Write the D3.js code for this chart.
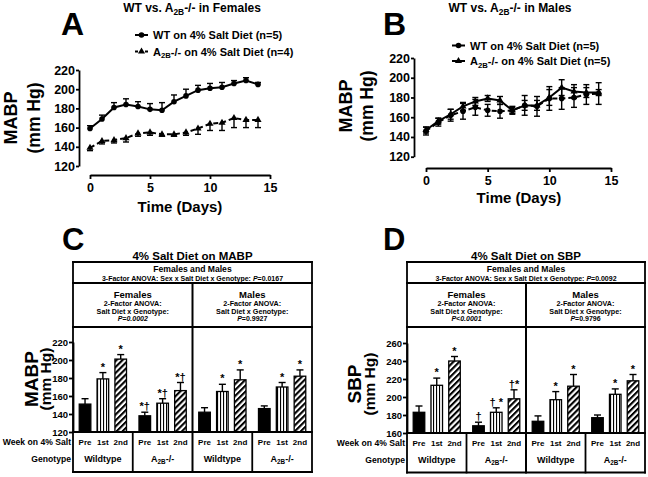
<!DOCTYPE html>
<html><head><meta charset="utf-8">
<script src="https://cdn.jsdelivr.net/npm/d3@7"></script>
<style>
body{margin:0;background:#fff}
svg{display:block;font-family:"Liberation Sans",Arial,Helvetica,sans-serif;font-weight:bold}
</style>
</head><body>
<svg id="c" width="648" height="477"></svg>
<script>
// ---------------- DATA ----------------
const days = [0,1,2,3,4,5,6,7,8,9,10,11,12,13,14];
const lineYTicks = [120,140,160,180,200,220];
const lineXTicks = [0,5,10,15];

// Panel A (females)
const femWT    = [159,169,181,184,182,179,178,187,193,199,201,202,206,209,205];
const femWTErr = [3,4,5,6,5,6,8,7,7,5,5,5,3,3,2];
const femKO    = [139,146,147,149,154,155,153,153,155,159,164,165,170,168,168];
const femKOErr = [3,3,3,4,3,3,2,2,3,6,7,8,10,8,8];

// Panel B (males)
const maleWT    = [146,155,162,166,170,167,166,167,172,171,179,179,180,183,184];
const maleWTErr = [4,4,6,8,8,6,7,4,10,10,12,11,10,10,11];
const maleKO    = [147,156,163,171,176,179,177,167,172,172,180,190,186,185,185];
const maleKOErr = [3,3,5,4,4,3,4,3,5,5,8,8,7,5,3];

// Panels C & D (bars)
const weeks = ["Pre","1st","2nd"];
const groupIds = ["F-WT","F-KO","M-WT","M-KO"];
const groupLabels = ["Wildtype","A2B-/-","Wildtype","A2B-/-"];
const mabpTicks = [120,140,160,180,200,220];
const mabpMean = [[151,179,201],[138,152,166],[142,165,178],[146,170,182]];
const mabpSem  = [[6,7,5],[4,5,9],[5,8,11],[3,5,7]];
const mabpSig  = [["","*","*"],["*†","*†","*†"],["","*","*"],["","*","*"]];
const sbpTicks = [160,180,200,220,240,260];
const sbpMean = [[183,213,240],[168,183,198],[173,197,212],[177,203,218]];
const sbpSem  = [[7,8,5],[4,5,10],[6,9,13],[3,6,7]];
const sbpSig  = [["","*","*"],["†","† *","†*"],["","*","*"],["","*","*"]];

// ---------------- HELPERS ----------------
const svg = d3.select("#c");
svg.append("rect").attr("width",648).attr("height",477).attr("fill","#fff");
const defs = svg.append("defs");
defs.append("pattern").attr("id","vstripe").attr("patternUnits","userSpaceOnUse")
  .attr("width",3).attr("height",4)
  .call(p=>{p.append("rect").attr("width",3).attr("height",4).attr("fill","#fff");
            p.append("rect").attr("x",1).attr("width",1.1).attr("height",4).attr("fill","#000");});
defs.append("pattern").attr("id","diag").attr("patternUnits","userSpaceOnUse")
  .attr("width",4.2).attr("height",4.2).attr("patternTransform","rotate(45)")
  .call(p=>{p.append("rect").attr("width",4.2).attr("height",4.2).attr("fill","#fff");
            p.append("rect").attr("width",2.1).attr("height",4.2).attr("fill","#000");});

function rich(sel, str, size){
  const parts = str.split("A2B");
  parts.forEach((p,i)=>{
    if(i>0){
      sel.append("tspan").text("A");
      sel.append("tspan").attr("font-size",size*0.7).attr("dy",size*0.25).text("2B");
      sel.append("tspan").attr("dy",-size*0.25).text(p);
    } else if(p) sel.append("tspan").text(p);
  });
  return sel;
}
function text(x,y,str,size,anchor="middle",extra){
  const t = svg.append("text").attr("x",x).attr("y",y).attr("font-size",size)
    .attr("text-anchor",anchor).attr("fill","#000");
  rich(t,str,size);
  if(extra) extra(t);
  return t;
}
function vtext(x,y,str,size){
  return svg.append("text").attr("transform",`translate(${x},${y}) rotate(-90)`)
    .attr("text-anchor","middle").attr("font-size",size).attr("fill","#000").text(str);
}
function styleAxis(a,size,w=1.8){
  a.select(".domain").attr("stroke","#000").attr("stroke-width",w);
  a.selectAll(".tick line").attr("stroke","#000").attr("stroke-width",w);
  a.selectAll(".tick text").attr("fill","#000").attr("font-size",size)
    .attr("font-weight","bold").attr("font-family",'"Liberation Sans",Arial,sans-serif');
}
const tri = d3.symbol().type(d3.symbolTriangle).size(22);

// ---------------- LINE PANELS ----------------
function linePanel(o){
  const x = d3.scaleLinear().domain([0,15]).range([o.x0,o.x1]);
  const y = d3.scaleLinear().domain([120,220]).range([o.yB,o.yT]);
  const g = svg.append("g");
  const ya = g.append("g").attr("transform",`translate(${o.ax},0)`)
    .call(d3.axisLeft(y).tickValues(lineYTicks).tickSize(3).tickSizeOuter(0).tickPadding(1));
  const xa = g.append("g").attr("transform",`translate(0,${o.ay})`)
    .call(d3.axisBottom(x).tickValues(lineXTicks).tickSize(4).tickSizeOuter(0).tickPadding(4));
  styleAxis(ya,12.5); styleAxis(xa,12.5);

  o.series.forEach(s=>{
    const eg = g.append("g").attr("stroke","#000").attr("stroke-width",1.4);
    days.forEach((d,i)=>{
      const v=s.vals[i], e=s.err[i];
      const lo = s.dir==="up" ? v : v-e;
      const hi = s.dir==="down" ? v : v+e;
      eg.append("line").attr("x1",x(d)).attr("x2",x(d)).attr("y1",y(lo)).attr("y2",y(hi));
      if(s.dir!=="down") eg.append("line").attr("x1",x(d)-3).attr("x2",x(d)+3).attr("y1",y(hi)).attr("y2",y(hi));
      if(s.dir!=="up") eg.append("line").attr("x1",x(d)-3).attr("x2",x(d)+3).attr("y1",y(lo)).attr("y2",y(lo));
    });
    g.append("path").datum(days.map((d,i)=>[d,s.vals[i]]))
      .attr("d",d3.line().x(d=>x(d[0])).y(d=>y(d[1])))
      .attr("fill","none").attr("stroke","#000").attr("stroke-width",2)
      .attr("stroke-dasharray",s.dash?"5,3":null);
    days.forEach((d,i)=>{
      if(s.marker==="circle") g.append("circle").attr("cx",x(d)).attr("cy",y(s.vals[i])).attr("r",2.8).attr("fill","#000");
      else g.append("path").attr("d",tri).attr("transform",`translate(${x(d)},${y(s.vals[i])})`).attr("fill","#000");
    });
  });
  // legend
  o.legend.forEach(l=>{
    const ly = l.y-4;
    svg.append("line").attr("x1",o.lx).attr("x2",o.lx+13).attr("y1",ly).attr("y2",ly)
      .attr("stroke","#000").attr("stroke-width",2).attr("stroke-dasharray",l.dash?"3,2":null);
    if(l.marker==="circle") svg.append("circle").attr("cx",o.lx+6.5).attr("cy",ly).attr("r",2.8).attr("fill","#000");
    else svg.append("path").attr("d",tri).attr("transform",`translate(${o.lx+6.5},${ly})`).attr("fill","#000");
    text(o.lx+18,l.y,l.label,11,"start");
  });
}

linePanel({x0:90,x1:270,yB:166,yT:70,ax:79,ay:175,lx:135,
  series:[
    {vals:femKO,err:femKOErr,dir:"down",dash:true,marker:"tri"},
    {vals:femWT,err:femWTErr,dir:"up",dash:false,marker:"circle"}],
  legend:[
    {y:39,label:"WT on 4% Salt Diet (n=5)",marker:"circle",dash:false},
    {y:55.5,label:"A2B-/- on 4% Salt Diet (n=4)",marker:"tri",dash:true}]});
linePanel({x0:426,x1:611,yB:156.7,yT:58,ax:414,ay:168,lx:452,
  series:[
    {vals:maleWT,err:maleWTErr,dir:"both",dash:true,marker:"circle"},
    {vals:maleKO,err:maleKOErr,dir:"both",dash:false,marker:"tri"}],
  legend:[
    {y:49.5,label:"WT on 4% Salt Diet (n=5)",marker:"circle",dash:false},
    {y:65,label:"A2B-/- on 4% Salt Diet (n=5)",marker:"tri",dash:false}]});

text(192,12,"WT vs. A2B-/- in Females",12);
text(510,12,"WT vs. A2B-/- in Males",12);
text(61,35,"A",32,"start");
text(383,35,"B",32,"start");
vtext(17,118,"MABP",18);
vtext(40,118,"(mm Hg)",17.5);
vtext(352,106,"MABP",18);
vtext(373,106,"(mm Hg)",17.5);
text(180,212,"Time (Days)",15);
text(519,203,"Time (Days)",15);

// ---------------- BAR PANELS ----------------
function barPanel(o){
  const g = svg.append("g");
  const gx = d3.scaleBand().domain(groupIds).range([o.L,o.R]);
  const ix = d3.scaleBand().domain(weeks).range([0,gx.bandwidth()]).paddingInner(0.35).paddingOuter(0.35);
  const y = d3.scaleLinear().domain([o.ticks[0],o.ticks[o.ticks.length-1]]).range([o.yB,o.yB-90]);
  const fills = {"Pre":"#000","1st":"url(#vstripe)","2nd":"url(#diag)"};
  groupIds.forEach((gid,gi)=>{
    weeks.forEach((w,wi)=>{
      const v=o.mean[gi][wi], e=o.sem[gi][wi];
      const cx = gx(gid)+ix(w)+ix.bandwidth()/2;
      g.append("line").attr("x1",cx).attr("x2",cx).attr("y1",y(v)).attr("y2",y(v+e))
        .attr("stroke","#000").attr("stroke-width",1.4);
      g.append("line").attr("x1",cx-3.5).attr("x2",cx+3.5).attr("y1",y(v+e)).attr("y2",y(v+e))
        .attr("stroke","#000").attr("stroke-width",1.4);
      g.append("rect").attr("x",gx(gid)+ix(w)).attr("width",ix.bandwidth())
        .attr("y",y(v)).attr("height",o.yB-y(v)).attr("fill",fills[w])
        .attr("stroke","#000").attr("stroke-width",1.3);
      if(o.sig[gi][wi]) g.append("text").attr("x",cx).attr("y",y(v+e)-2)
        .attr("text-anchor","middle").attr("font-size",11).attr("fill","#000").text(o.sig[gi][wi]);
      g.append("text").attr("x",cx).attr("y",o.yB+13).attr("text-anchor","middle")
        .attr("font-size",8).attr("fill","#000").text(w);
    });
    const t = g.append("text").attr("x",gx(gid)+gx.bandwidth()/2).attr("y",o.yB+29.5)
      .attr("text-anchor","middle").attr("font-size",9).attr("fill","#000");
    rich(t,groupLabels[gi],9);
  });
  const ya = g.append("g").attr("transform",`translate(${o.L},0)`)
    .call(d3.axisLeft(y).tickValues(o.ticks).tickSize(4).tickSizeOuter(0).tickPadding(1));
  styleAxis(ya,9.5);
  // frame lines
  const ln=(x1,y1,x2,y2,w=1.8)=>g.append("line").attr("x1",x1).attr("y1",y1).attr("x2",x2).attr("y2",y2)
    .attr("stroke","#000").attr("stroke-width",w).attr("stroke-linecap","square");
  [o.top,o.r1,o.r2,o.yB,o.bot].forEach(yy=>ln(o.L,yy,o.R,yy));
  ln(o.L,o.top,o.L,o.bot); ln(o.R,o.top,o.R,o.bot);
  ln(gx("M-WT"),o.r1,gx("M-WT"),o.bot,2);
  ln(gx("F-KO"),o.yB,gx("F-KO"),o.bot); ln(gx("M-KO"),o.yB,gx("M-KO"),o.bot);
  // table text
  const mid=(o.L+o.R)/2, fc=(o.L+gx("M-WT"))/2, mc=(gx("M-WT")+o.R)/2;
  text(mid,o.top-2,o.title,11.5);
  text(mid,o.top+10,"Females and Males",8.6);
  text(mid,o.top+18.7,"3-Factor ANOVA: Sex x Salt Diet x Genotype: ",7,"middle",t=>{
    t.append("tspan").attr("font-style","italic").text("P");
    t.append("tspan").text(o.p3);
  });
  [[fc,"Females",o.pF,true],[mc,"Males",o.pM,false]].forEach(([cx,lab,p,ital])=>{
    text(cx,o.top+36,lab,9.5);
    text(cx,o.top+44,"2-Factor ANOVA:",7.2);
    text(cx,o.top+51.5,"Salt Diet x Genotype:",7.2);
    const t=text(cx,o.top+59,"",7);
    t.append("tspan").attr("font-style","italic").text("P");
    t.append("tspan").attr("font-style",ital?"italic":null).text(p);
  });
  text(o.L-2,o.yB+13,"Week on 4% Salt",8.6,"end");
  text(o.L-2,o.yB+29.5,"Genotype",8.6,"end");
  text(o.letterX,250,o.letter,31,"start");
}

barPanel({L:73,R:312,top:262,r1:283,r2:327,yB:432,bot:472,ticks:mabpTicks,
  mean:mabpMean,sem:mabpSem,sig:mabpSig,title:"4% Salt Diet on MABP",
  p3:"=0.0167",pF:"=0.0002",pM:"=0.9927",letter:"C",letterX:62});
barPanel({L:407,R:645,top:262,r1:283,r2:327,yB:433,bot:472.5,ticks:sbpTicks,
  mean:sbpMean,sem:sbpSem,sig:sbpSig,title:"4% Salt Diet on SBP",
  p3:"=0.0092",pF:"<0.0001",pM:"=0.9796",letter:"D",letterX:383});

vtext(37.5,379,"MABP",19);
vtext(51,379,"(mm Hg)",15.5);
vtext(361,384,"SBP",19);
vtext(375,384,"(mm Hg)",15.5);
</script>
</body></html>
